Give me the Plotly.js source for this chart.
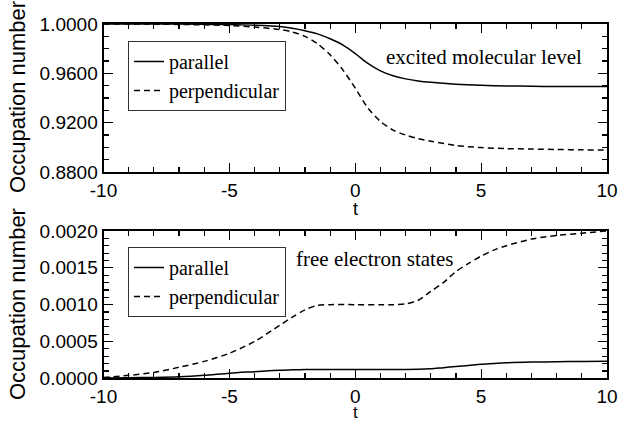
<!DOCTYPE html>
<html>
<head>
<meta charset="utf-8">
<script src="https://cdn.plot.ly/plotly-3.0.1.min.js"></script>
<style>html,body{margin:0;padding:0;background:#fff;}</style>
</head>
<body>
<div id="chart" style="width:621px;height:421px;"></div>
<script>
// Top panel: excited molecular level
var tTop = [-10,-8,-6,-5,-4,-3,-2.5,-2,-1.5,-1,-0.5,0,0.5,1,1.5,2,2.5,3,4,5,6,7,8,9,10];
var topParallel = [1.0,1.0,0.9998,0.9995,0.999,0.998,0.9966,0.9946,0.992,0.988,0.983,0.976,0.968,0.962,0.958,0.9555,0.9538,0.9527,0.9512,0.9503,0.9498,0.9495,0.9493,0.9493,0.9494];
var topPerpendicular = [1.0,0.9999,0.9993,0.9987,0.9975,0.9955,0.9935,0.990,0.984,0.975,0.963,0.948,0.932,0.921,0.914,0.910,0.907,0.905,0.9015,0.8998,0.899,0.8986,0.8983,0.898,0.8978];

// Bottom panel: free electron states
var tBot = [-10,-9,-8,-7,-6,-5,-4,-3,-2.5,-2,-1.5,-1,0,1,1.5,2,2.5,3,3.5,4,4.5,5,5.5,6,7,8,9,10];
var botParallel = [0.000005,0.000008,0.000012,0.00002,0.00004,0.00007,0.00009,0.00011,0.000115,0.00012,0.00012,0.00012,0.00012,0.00012,0.00012,0.00012,0.000122,0.00013,0.000145,0.00016,0.000175,0.00019,0.0002,0.00021,0.00022,0.000225,0.000228,0.00023];
var botPerpendicular = [0.00001,0.00004,0.00008,0.00015,0.00023,0.00034,0.0005,0.00072,0.00083,0.00093,0.00099,0.001,0.001,0.001,0.001,0.00101,0.00106,0.00118,0.0013,0.00145,0.00156,0.00166,0.00174,0.0018,0.00189,0.00194,0.00197,0.002];

var seriesNames = ['parallel','perpendicular'];
var xTickVals = [-10,-5,0,5,10];
var xTickText = ['-10','-5','0','5','10'];
var topTickVals = [0.88,0.92,0.96,1.0];
var topTickText = ['0.8800','0.9200','0.9600','1.0000'];
var botTickVals = [0,0.0005,0.001,0.0015,0.002];
var botTickText = ['0.0000','0.0005','0.0010','0.0015','0.0020'];

var sans = 'Liberation Sans';
var serif = 'Liberation Serif';

function tr(x, y, name, dash, xa, ya, leg) {
  return {x:x, y:y, name:name, type:'scatter', mode:'lines',
    line:{color:'black', width:1.5, dash:dash, shape:'spline', smoothing:0.8},
    xaxis:xa, yaxis:ya, legend:leg};
}

var data = [
  tr(tTop, topParallel, seriesNames[0], 'solid', 'x', 'y', 'legend'),
  tr(tTop, topPerpendicular, seriesNames[1], '6px,4px', 'x', 'y', 'legend'),
  tr(tBot, botParallel, seriesNames[0], 'solid', 'x2', 'y2', 'legend2'),
  tr(tBot, botPerpendicular, seriesNames[1], '6px,4px', 'x2', 'y2', 'legend2')
];

function xAxis(anchor) {
  return {domain:[0.1667,0.9775], range:[-10,10], anchor:anchor,
    tickvals:xTickVals, ticktext:xTickText,
    ticks:'inside', ticklen:9, tickwidth:1.2, tickcolor:'black',
    minor:{dtick:1, tick0:0, ticks:'inside', ticklen:5, tickwidth:1.2, tickcolor:'black', showgrid:false},
    showline:true, linewidth:2, linecolor:'black', mirror:'allticks',
    showgrid:false, zeroline:false, automargin:false,
    tickfont:{family:sans, size:19, color:'black'}};
}
function yAxis(anchor, dom, rng, tv, tt, minorDt) {
  return {domain:dom, range:rng, anchor:anchor,
    tickvals:tv, ticktext:tt,
    ticks:'inside', ticklen:9, tickwidth:1.2, tickcolor:'black',
    minor:{dtick:minorDt, tick0:0, ticks:'inside', ticklen:5, tickwidth:1.2, tickcolor:'black', showgrid:false},
    showline:true, linewidth:2, linecolor:'black', mirror:'allticks',
    showgrid:false, zeroline:false, automargin:false,
    tickfont:{family:sans, size:19, color:'black'}};
}

function titleAnn(text, x, y, angle, size) {
  return {text:text, xref:'paper', yref:'paper', x:x, y:y, xanchor:'center', yanchor:'middle',
    textangle:angle, showarrow:false, font:{family:sans, size:size, color:'black'}};
}

var legendStyle = function(yc) {
  return {x:0.2061, y:yc, xanchor:'left', yanchor:'middle',
    bgcolor:'white', bordercolor:'#333', borderwidth:1,
    font:{family:serif, size:20, color:'black'}, itemwidth:30, tracegroupgap:0};
};

var layout = {
  width:621, height:421,
  margin:{l:0, r:0, t:0, b:0},
  paper_bgcolor:'white', plot_bgcolor:'white',
  showlegend:true,
  xaxis: xAxis('y'),
  yaxis: yAxis('x', [0.5914,0.943], [0.88,1.0], topTickVals, topTickText, 0.01),
  xaxis2: xAxis('y2'),
  yaxis2: yAxis('x2', [0.1014,0.4513], [0,0.002], botTickVals, botTickText, 0.0001),
  legend: legendStyle(0.8195),
  legend2: legendStyle(0.3302),
  annotations:[
    {text:'excited molecular level', xref:'paper', yref:'paper', x:0.7794, y:0.8646,
      xanchor:'center', yanchor:'middle', showarrow:false,
      font:{family:serif, size:21, color:'black'}},
    {text:'free electron states', xref:'paper', yref:'paper', x:0.603, y:0.3848,
      xanchor:'center', yanchor:'middle', showarrow:false,
      font:{family:serif, size:21, color:'black'}},
    titleAnn('t', 0.5725, 0.503, 0, 18),
    titleAnn('t', 0.5725, 0.021, 0, 17),
    titleAnn('Occupation number', 0.028, 0.7707, -90, 22),
    titleAnn('Occupation number', 0.028, 0.2787, -90, 22)
  ]
};

Plotly.newPlot('chart', data, layout, {staticPlot:true, displayModeBar:false});
</script>
</body>
</html>
